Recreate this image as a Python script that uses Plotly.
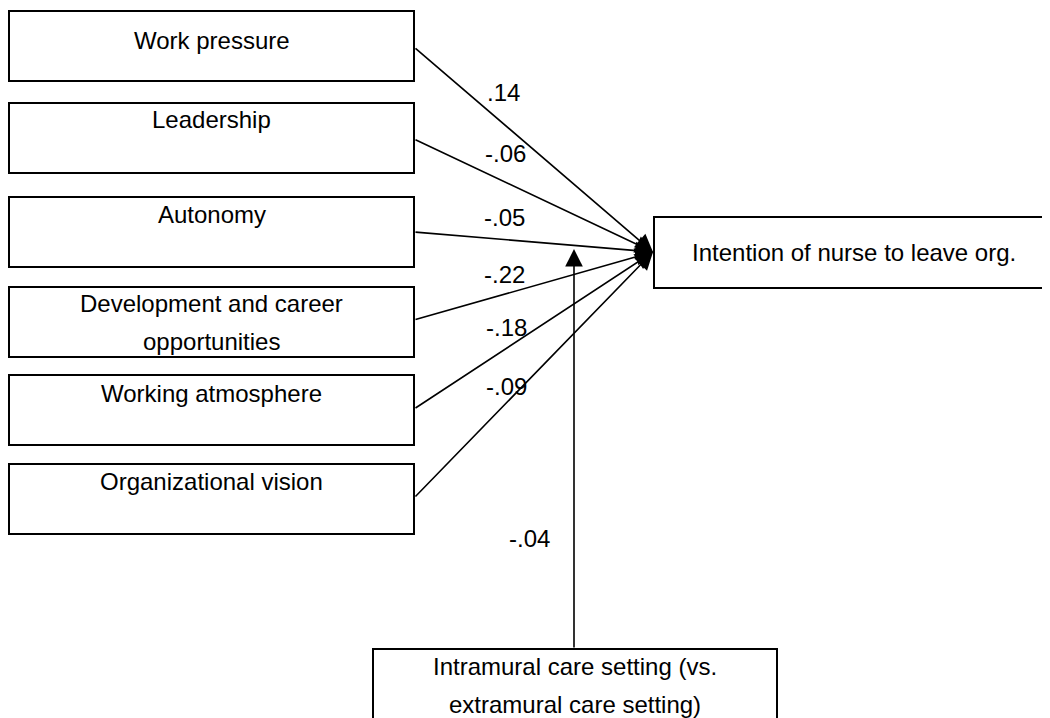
import plotly.graph_objects as go

# ---- data ----
predictors = ["Work pressure", "Leadership", "Autonomy",
              "Development and career<br>opportunities",
              "Working atmosphere", "Organizational vision"]
coefficients = [".14", "-.06", "-.05", "-.22", "-.18", "-.09"]
outcome = "Intention of nurse to leave org."
moderator = "Intramural care setting (vs.<br>extramural care setting)"
moderator_coef = "-.04"

# ---- layout (pixel coordinates on a 1050x718 page; the page body has an 8px margin) ----
W, H = 1050, 718
PAD = 8
FONT = dict(family="Liberation Sans, Arial, sans-serif", size=24, color="black")
box_x0, box_x1 = 9, 414
box_tops = [11, 103, 197, 287, 375, 464]
box_h = 70
text_caps = [39.5, 118.5, 213, 302, 392, 480]
line_gap = 38
start_ys = [47, 139, 232, 320, 409, 498]
coef_pos = [(503, 92), (505, 153), (504, 217), (504, 274), (506, 327), (506, 386)]
tip = (653, 252)
out_box = (654, 217, 1053, 288)
mod_box = (373, 649, 777, 730)
mod_x = 574
mod_tip_y = 249
mod_coef_pos = (529, 538)

fig = go.Figure()
shapes = []
ann = []

def txt(x, y, s):
    ann.append(dict(x=x, y=y, xref="x", yref="y", text=s, showarrow=False,
                    font=FONT, xanchor="center", yanchor="middle"))

for i, name in enumerate(predictors):
    t = box_tops[i]
    shapes.append(dict(type="rect", xref="x", yref="y", x0=box_x0, x1=box_x1,
                       y0=t, y1=t + box_h, line=dict(color="black", width=2)))
    lines = name.split("<br>")
    for j, ln in enumerate(lines):
        txt((box_x0 + box_x1) / 2, text_caps[i] + 1 + j * line_gap, ln)
    # path arrow
    ann.append(dict(x=tip[0], y=tip[1], ax=box_x1, ay=start_ys[i], xref="x", yref="y",
                    axref="x", ayref="y", showarrow=True, arrowhead=2, arrowsize=2.2,
                    arrowwidth=1.6, arrowcolor="black", text=""))
    txt(coef_pos[i][0], coef_pos[i][1], coefficients[i])

# outcome box
shapes.append(dict(type="rect", xref="x", yref="y", x0=out_box[0], x1=out_box[2],
                   y0=out_box[1], y1=out_box[3], line=dict(color="black", width=2)))
txt((out_box[0] + 1050) / 2 + 2, (out_box[1] + out_box[3]) / 2, outcome)

# moderator box
shapes.append(dict(type="rect", xref="x", yref="y", x0=mod_box[0], x1=mod_box[2],
                   y0=mod_box[1], y1=mod_box[3], line=dict(color="black", width=2)))
for j, ln in enumerate(moderator.split("<br>")):
    txt(mod_x + 1, 666 + j * line_gap, ln)
ann.append(dict(x=mod_x, y=mod_tip_y, ax=mod_x, ay=mod_box[1], xref="x", yref="y",
                axref="x", ayref="y", showarrow=True, arrowhead=2, arrowsize=2.2,
                arrowwidth=1.6, arrowcolor="black", text=""))
txt(mod_coef_pos[0], mod_coef_pos[1], moderator_coef)

fig.update_layout(
    width=W - PAD, height=H - PAD, margin=dict(l=0, r=0, t=0, b=0),
    paper_bgcolor="white", plot_bgcolor="white",
    xaxis=dict(range=[PAD, W], visible=False, fixedrange=True),
    yaxis=dict(range=[H, PAD], visible=False, fixedrange=True),
    shapes=shapes, annotations=ann, showlegend=False,
)
fig.write_html("out.html")
